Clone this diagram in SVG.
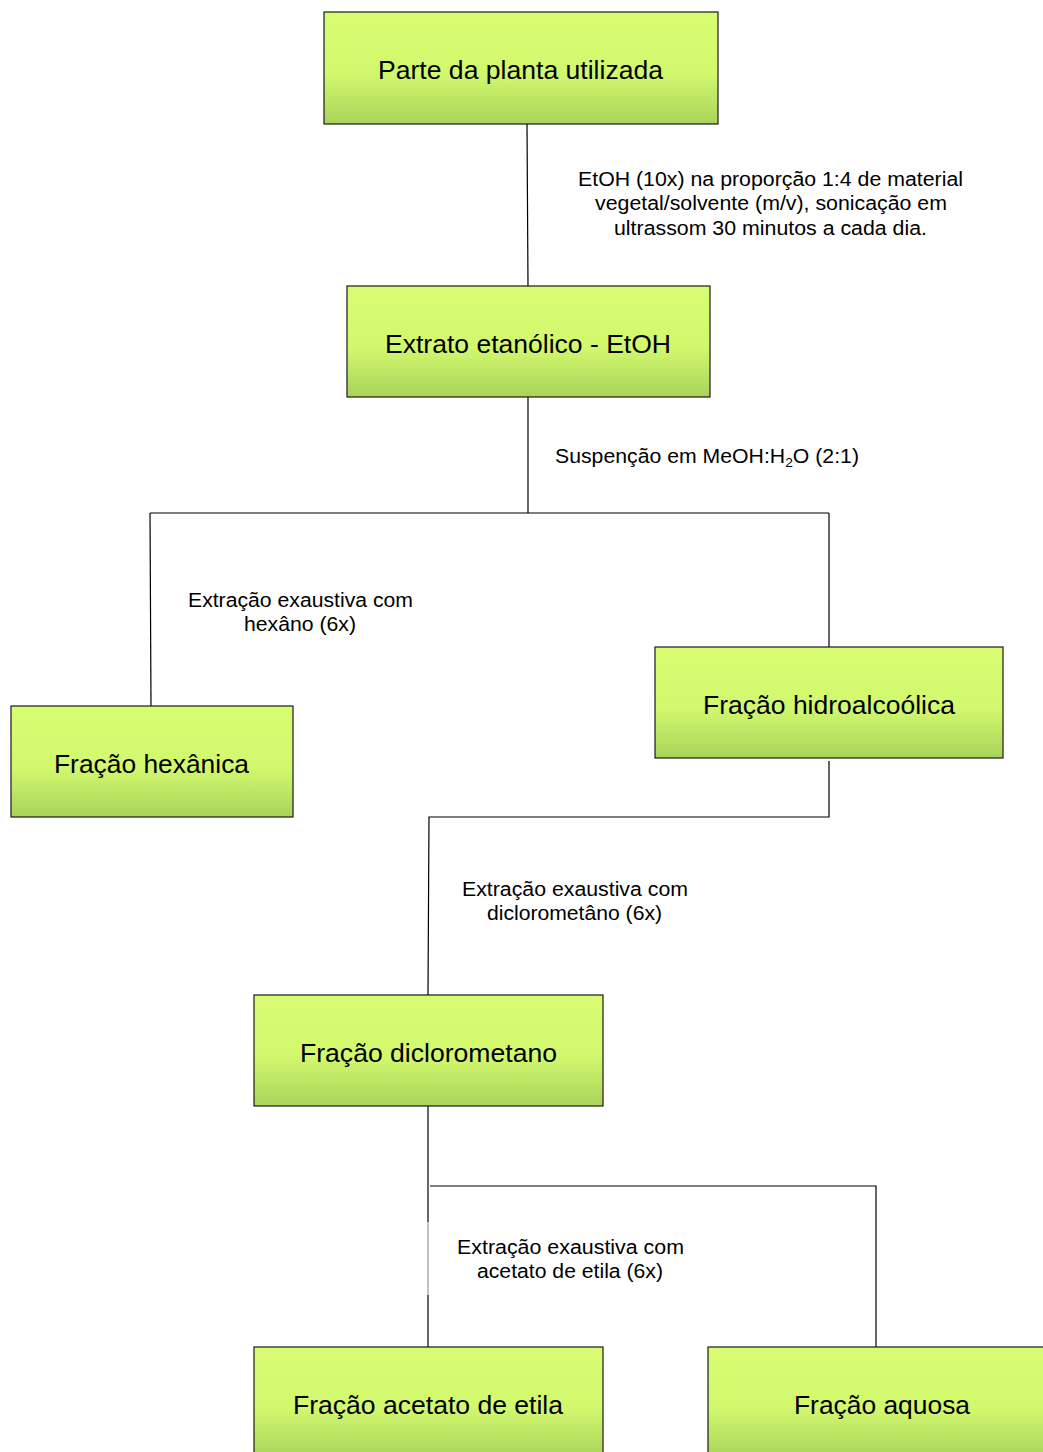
<svg xmlns="http://www.w3.org/2000/svg" width="1043" height="1452" viewBox="0 0 1043 1452">
<defs>
<linearGradient id="g" x1="0" y1="0" x2="0" y2="1">
<stop offset="0" stop-color="#d8fd72"/>
<stop offset="0.55" stop-color="#d2f86e"/>
<stop offset="1" stop-color="#a9d45a"/>
</linearGradient>
</defs>
<style>
.box{fill:url(#g);stroke:#1a1a1a;stroke-width:1.2}
.bt{font-family:"Liberation Sans",Arial,sans-serif;font-size:26.5px;fill:#000;text-anchor:middle}
.lt{font-family:"Liberation Sans",Arial,sans-serif;font-size:20px;fill:#000;text-anchor:middle}
.c{stroke:#000;stroke-width:1.2;fill:none}
</style>
<rect width="1043" height="1452" fill="#fff"/>
<g id="connectors">
<path class="c" d="M527,124 L528,286"/>
<path class="c" d="M528,397 L528,513"/>
<path class="c" d="M150,513 L829,513"/>
<path class="c" d="M150,513 L151,706"/>
<path class="c" d="M829,513 L829,647"/>
<path class="c" d="M829,761 L829,817 L429,817 L428,995"/>
<path class="c" d="M428,1106 L428,1222"/>
<path d="M428,1222 L428,1295" stroke="#999" stroke-width="1.2"/>
<path class="c" d="M428,1295 L428,1347"/>
<path class="c" d="M430,1186 L876,1186 L876,1347"/>
</g>
<g id="labels">
<text class="lt" x="770.5" y="186" textLength="385" lengthAdjust="spacingAndGlyphs">EtOH (10x) na proporção 1:4 de material</text>
<text class="lt" x="771" y="210" textLength="352" lengthAdjust="spacingAndGlyphs">vegetal/solvente (m/v), sonicação em</text>
<text class="lt" x="770.5" y="235" textLength="313" lengthAdjust="spacingAndGlyphs">ultrassom 30 minutos a cada dia.</text>
<text class="lt" x="707" y="463" textLength="304" lengthAdjust="spacingAndGlyphs">Suspenção em MeOH:H<tspan font-size="13" dy="4">2</tspan><tspan dy="-4">O (2:1)</tspan></text>
<text class="lt" x="300.5" y="607" textLength="225" lengthAdjust="spacingAndGlyphs">Extração exaustiva com</text>
<text class="lt" x="300" y="631" textLength="112" lengthAdjust="spacingAndGlyphs">hexâno (6x)</text>
<text class="lt" x="575" y="896" textLength="226" lengthAdjust="spacingAndGlyphs">Extração exaustiva com</text>
<text class="lt" x="574.5" y="920" textLength="175" lengthAdjust="spacingAndGlyphs">diclorometâno (6x)</text>
<text class="lt" x="570.5" y="1254" textLength="227" lengthAdjust="spacingAndGlyphs">Extração exaustiva com</text>
<text class="lt" x="570" y="1278" textLength="186" lengthAdjust="spacingAndGlyphs">acetato de etila (6x)</text>
</g>
<g id="n1"><rect class="box" x="324" y="12" width="394" height="112"/><text class="bt" x="520.5" y="79" textLength="285" lengthAdjust="spacingAndGlyphs">Parte da planta utilizada</text></g>
<g id="n2"><rect class="box" x="347" y="286" width="363" height="111"/><text class="bt" x="528" y="353" textLength="286" lengthAdjust="spacingAndGlyphs">Extrato etanólico - EtOH</text></g>
<g id="n3"><rect class="box" x="11" y="706" width="282" height="111"/><text class="bt" x="151.5" y="773" textLength="195" lengthAdjust="spacingAndGlyphs">Fração hexânica</text></g>
<g id="n4"><rect class="box" x="655" y="647" width="348" height="111"/><text class="bt" x="829" y="714" textLength="252" lengthAdjust="spacingAndGlyphs">Fração hidroalcoólica</text></g>
<g id="n5"><rect class="box" x="254" y="995" width="349" height="111"/><text class="bt" x="428.5" y="1062" textLength="257" lengthAdjust="spacingAndGlyphs">Fração diclorometano</text></g>
<g id="n6"><rect class="box" x="254" y="1347" width="349" height="111"/><text class="bt" x="428" y="1414" textLength="270" lengthAdjust="spacingAndGlyphs">Fração acetato de etila</text></g>
<g id="n7"><rect class="box" x="708" y="1347" width="349" height="111"/><text class="bt" x="882" y="1414" textLength="176" lengthAdjust="spacingAndGlyphs">Fração aquosa</text></g>
</svg>
